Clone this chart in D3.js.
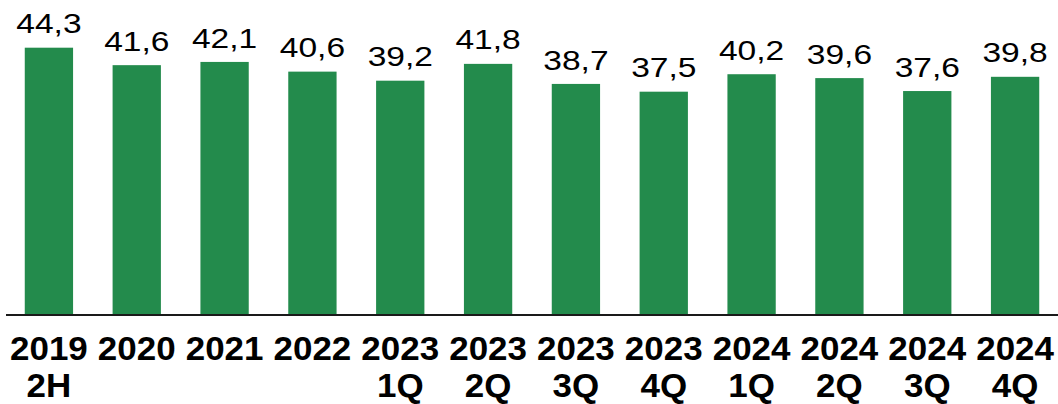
<!DOCTYPE html>
<html>
<head>
<meta charset="utf-8">
<script src="https://cdn.jsdelivr.net/npm/d3@7"></script>
<style>
  body { margin: 0; background: #fff; }
  svg { display: block; }
  .val { font-family: "Liberation Sans", Arial, sans-serif; font-size: 27.5px; fill: #000; }
  .cat { font-family: "Liberation Sans", Arial, sans-serif; font-size: 33px; font-weight: bold; fill: #000; }
</style>
</head>
<body>
<svg></svg>
<script>
var years = ['2019','2020','2021','2022','2023','2023','2023','2023','2024','2024','2024','2024'];
var periods = ['2H','','','','1Q','2Q','3Q','4Q','1Q','2Q','3Q','4Q'];
var values = [44.3, 41.6, 42.1, 40.6, 39.2, 41.8, 38.7, 37.5, 40.2, 39.6, 37.6, 39.8];

var width = 1058,
    height = 404,
    baseY = 314;

var svg = d3.select('svg')
    .attr('width', width)
    .attr('height', height);

var x = d3.scaleBand()
    .domain(d3.range(values.length))
    .range([5, 1059])
    .paddingInner(0.45)
    .paddingOuter(0.225);

// value axis does not start at zero in the source chart
var y = d3.scaleLinear()
    .domain([3.14, 48])
    .range([baseY, baseY - (48 - 3.14) * 6.47]);

function cx(i){ return x(i) + x.bandwidth()/2; }

svg.append('g')
    .selectAll('rect')
    .data(values)
    .join('rect')
    .attr('x', function(d, i){ return x(i); })
    .attr('y', function(d){ return y(d); })
    .attr('width', x.bandwidth())
    .attr('height', function(d){ return baseY - y(d); })
    .attr('fill', '#238b4c');

svg.append('g')
    .selectAll('text')
    .data(values)
    .join('text')
    .classed('val', true)
    .attr('text-anchor', 'middle')
    .attr('transform', function(d, i){
        return 'translate(' + cx(i) + ',' + (y(d) - 14.4) + ') scale(1.22,1)';
    })
    .text(function(d){ return d.toFixed(1).replace('.', ','); });

svg.append('line')
    .attr('x1', 6)
    .attr('x2', width)
    .attr('y1', baseY + 1)
    .attr('y2', baseY + 1)
    .attr('stroke', '#1a1a1a')
    .attr('stroke-width', 2);

var cats = svg.append('g')
    .selectAll('text')
    .data(years)
    .join('text')
    .classed('cat', true)
    .attr('text-anchor', 'middle')
    .attr('transform', function(d, i){
        return 'translate(' + cx(i) + ',360) scale(1.06,1)';
    });
cats.append('tspan')
    .attr('x', 0)
    .text(function(d){ return d; });
cats.append('tspan')
    .attr('x', 0)
    .attr('dy', 37)
    .text(function(d, i){ return periods[i]; });
</script>
</body>
</html>
